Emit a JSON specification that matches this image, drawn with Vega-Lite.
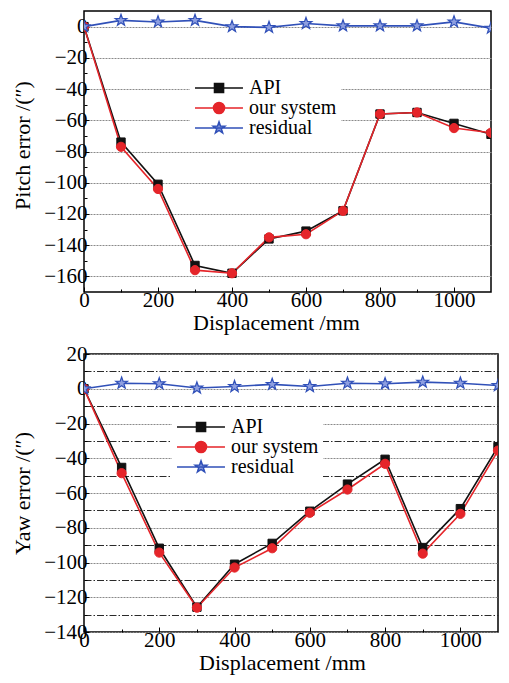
{
  "$schema": "https://vega.github.io/schema/vega-lite/v6.json",
  "background": "white",
  "padding": {"left": 10, "top": 10, "right": 8, "bottom": 4},
  "spacing": 8,
  "datasets": {
    "pitch": [
      {"x": 0, "value": 0, "series": "API"},
      {"x": 100, "value": -74, "series": "API"},
      {"x": 200, "value": -101, "series": "API"},
      {"x": 300, "value": -153, "series": "API"},
      {"x": 400, "value": -158, "series": "API"},
      {"x": 500, "value": -136, "series": "API"},
      {"x": 600, "value": -131, "series": "API"},
      {"x": 700, "value": -118, "series": "API"},
      {"x": 800, "value": -56, "series": "API"},
      {"x": 900, "value": -55, "series": "API"},
      {"x": 1000, "value": -62, "series": "API"},
      {"x": 1100, "value": -69, "series": "API"},
      {"x": 0, "value": 0, "series": "our system"},
      {"x": 100, "value": -77, "series": "our system"},
      {"x": 200, "value": -104, "series": "our system"},
      {"x": 300, "value": -156, "series": "our system"},
      {"x": 400, "value": -158, "series": "our system"},
      {"x": 500, "value": -135, "series": "our system"},
      {"x": 600, "value": -133, "series": "our system"},
      {"x": 700, "value": -118, "series": "our system"},
      {"x": 800, "value": -56, "series": "our system"},
      {"x": 900, "value": -55, "series": "our system"},
      {"x": 1000, "value": -65, "series": "our system"},
      {"x": 1100, "value": -68, "series": "our system"},
      {"x": 0, "value": 0, "series": "residual"},
      {"x": 100, "value": 4, "series": "residual"},
      {"x": 200, "value": 3, "series": "residual"},
      {"x": 300, "value": 4, "series": "residual"},
      {"x": 400, "value": 0, "series": "residual"},
      {"x": 500, "value": -0.5, "series": "residual"},
      {"x": 600, "value": 2, "series": "residual"},
      {"x": 700, "value": 0.5, "series": "residual"},
      {"x": 800, "value": 0.5, "series": "residual"},
      {"x": 900, "value": 0.5, "series": "residual"},
      {"x": 1000, "value": 3, "series": "residual"},
      {"x": 1100, "value": -1, "series": "residual"}
    ],
    "yaw": [
      {"x": 0, "value": 0, "series": "API"},
      {"x": 100, "value": -45.3, "series": "API"},
      {"x": 200, "value": -91.8, "series": "API"},
      {"x": 300, "value": -125.7, "series": "API"},
      {"x": 400, "value": -101, "series": "API"},
      {"x": 500, "value": -89, "series": "API"},
      {"x": 600, "value": -70.5, "series": "API"},
      {"x": 700, "value": -54.9, "series": "API"},
      {"x": 800, "value": -40.6, "series": "API"},
      {"x": 900, "value": -91.4, "series": "API"},
      {"x": 1000, "value": -69, "series": "API"},
      {"x": 1100, "value": -33.3, "series": "API"},
      {"x": 0, "value": 0, "series": "our system"},
      {"x": 100, "value": -48.6, "series": "our system"},
      {"x": 200, "value": -94.3, "series": "our system"},
      {"x": 300, "value": -126, "series": "our system"},
      {"x": 400, "value": -102.9, "series": "our system"},
      {"x": 500, "value": -91.8, "series": "our system"},
      {"x": 600, "value": -71.4, "series": "our system"},
      {"x": 700, "value": -58, "series": "our system"},
      {"x": 800, "value": -43.2, "series": "our system"},
      {"x": 900, "value": -94.9, "series": "our system"},
      {"x": 1000, "value": -72, "series": "our system"},
      {"x": 1100, "value": -35.6, "series": "our system"},
      {"x": 0, "value": 0, "series": "residual"},
      {"x": 100, "value": 3.2, "series": "residual"},
      {"x": 200, "value": 2.9, "series": "residual"},
      {"x": 300, "value": 0.4, "series": "residual"},
      {"x": 400, "value": 1.3, "series": "residual"},
      {"x": 500, "value": 2.5, "series": "residual"},
      {"x": 600, "value": 1.3, "series": "residual"},
      {"x": 700, "value": 3.2, "series": "residual"},
      {"x": 800, "value": 2.9, "series": "residual"},
      {"x": 900, "value": 3.8, "series": "residual"},
      {"x": 1000, "value": 3.2, "series": "residual"},
      {"x": 1100, "value": 1.9, "series": "residual"}
    ]
  },
  "config": {
    "font": "Liberation Serif",
    "view": {"stroke": "black", "strokeWidth": 1.5},
    "axis": {
      "labelFont": "Liberation Serif",
      "titleFont": "Liberation Serif",
      "labelFontSize": 21,
      "titleFontSize": 22,
      "titleFontWeight": "normal",
      "labelColor": "black",
      "titleColor": "black",
      "domain": false,
      "tickColor": "black",
      "tickWidth": 1,
      "labelPadding": 2,
      "labelOverlap": false,
      "labelFlush": false,
      "labelBound": false
    },
    "axisX": {"titlePadding": 0, "grid": false},
    "axisY": {"titlePadding": 9}
  },
  "resolve": {
    "scale": {"color": "independent"},
    "legend": {"color": "independent"}
  },
  "vconcat": [
    {
      "width": 407,
      "height": 281,
      "data": {"name": "pitch"},
      "encoding": {
        "x": {"field": "x", "type": "quantitative", "scale": {"domain": [0, 1100], "nice": false},
          "axis": {"values": [0, 100, 200, 300, 400, 500, 600, 700, 800, 900, 1000], "format": "d", "title": "Displacement /mm", "titleX": 192,
            "labelExpr": "datum.value % 200 === 0 ? datum.label : ''",
            "tickSize": {"condition": {"test": "datum.value % 200 === 0", "value": -5}, "value": -3}}},
        "y": {"field": "value", "type": "quantitative", "scale": {"domain": [-170, 10], "nice": false},
          "axis": {"values": [0, -10, -20, -30, -40, -50, -60, -70, -80, -90, -100, -110, -120, -130, -140, -150, -160], "format": "d", "title": "Pitch error /(″)", "titleY": 134,
            "labelExpr": "datum.value === 0 ? '0' : (datum.value % 20 === 0 ? datum.label : '')",
            "tickSize": {"condition": {"test": "datum.value % 20 === 0", "value": -5}, "value": -3},
            "grid": true, "gridColor": "#8a8a8a", "gridDash": [2, 1], "gridWidth": 1,
            "gridOpacity": {"condition": {"test": "datum.value % 20 === 0", "value": 1}, "value": 0}}}
      },
      "layer": [
        {
          "mark": {"type": "line", "strokeWidth": 1.6, "clip": true},
          "encoding": {
            "color": {
              "field": "series", "type": "nominal",
              "scale": {"domain": ["API", "our system", "residual"], "range": ["#111111", "#e5252a", "#3050b8"]},
              "legend": {
                "orient": "none", "legendX": 106, "legendY": 63, "title": null,
                "fillColor": "white", "padding": 4, "rowPadding": 0,
                "labelFont": "Liberation Serif", "labelFontSize": 20, "labelColor": "black",
                "symbolSize": 324, "symbolStrokeWidth": 1.6, "labelOffset": 35,
                "encode": {"symbols": {"update": {
                  "shape": {"signal": "datum.value === 'API' ? 'M-1,0H4.33M1.17,-0.5H2.17V0.5H1.17Z' : datum.value === 'our system' ? 'M-1,0H4.33M2.28,0A0.61,0.61,0,1,1,1.06,0A0.61,0.61,0,1,1,2.28,0Z' : 'M-1,0H4.33M1.67,-0.67L1.827,-0.217L2.307,-0.207L1.925,0.083L2.064,0.542L1.67,0.268L1.276,0.542L1.415,0.083L1.033,-0.207L1.513,-0.217Z'"},
                  "fill": {"signal": "datum.value === 'API' ? '#111111' : datum.value === 'our system' ? '#e5252a' : '#8e9fe0'"},
                  "stroke": {"signal": "datum.value === 'API' ? '#111111' : datum.value === 'our system' ? '#e5252a' : '#3050b8'"},
                  "strokeWidth": {"value": 1.6},
                  "opacity": {"value": 1}, "fillOpacity": {"value": 1}, "strokeOpacity": {"value": 1}
                }}}
              }
            }
          }
        },
        {
          "transform": [{"filter": "datum.series === 'API'"}],
          "mark": {"type": "point", "clip": true, "shape": "M-1,-1H1V1H-1Z", "size": 70, "filled": true, "fill": "#111111", "stroke": "#111111", "strokeWidth": 1, "opacity": 1}
        },
        {
          "transform": [{"filter": "datum.series === 'our system'"}],
          "mark": {"type": "point", "clip": true, "shape": "circle", "size": 85, "filled": true, "fill": "#e5252a", "stroke": "#e5252a", "strokeWidth": 1, "opacity": 1}
        },
        {
          "transform": [{"filter": "datum.series === 'residual'"}],
          "mark": {"type": "point", "clip": true, "shape": "M0,-1L0.235,-0.324L0.951,-0.309L0.38,0.124L0.588,0.809L0,0.4L-0.588,0.809L-0.38,0.124L-0.951,-0.309L-0.235,-0.324Z", "size": 150, "filled": true, "fill": "#8e9fe0", "stroke": "#3050b8", "strokeWidth": 1.2, "opacity": 1}
        },
        {
          "data": {"values": [{"label": "(a)"}]},
          "mark": {"type": "text", "align": "right", "baseline": "middle", "fontSize": 21, "font": "Liberation Serif", "color": "black"},
          "encoding": {
            "x": {"datum": 1084, "type": "quantitative"},
            "y": {"datum": -5, "type": "quantitative"},
            "text": {"field": "label"}
          }
        }
      ]
    },
    {
      "width": 414,
      "height": 278,
      "data": {"name": "yaw"},
      "encoding": {
        "x": {"field": "x", "type": "quantitative", "scale": {"domain": [0, 1100], "nice": false},
          "axis": {"values": [0, 100, 200, 300, 400, 500, 600, 700, 800, 900, 1000], "format": "d", "title": "Displacement /mm", "titleX": 198,
            "labelExpr": "datum.value % 200 === 0 ? datum.label : ''",
            "tickSize": {"condition": {"test": "datum.value % 200 === 0", "value": -5}, "value": -3}}},
        "y": {"field": "value", "type": "quantitative", "scale": {"domain": [-140, 20], "nice": false},
          "axis": {"values": [20, 10, 0, -10, -20, -30, -40, -50, -60, -70, -80, -90, -100, -110, -120, -130, -140], "format": "d", "title": "Yaw error /(″)",
            "labelExpr": "datum.value === 0 ? '0' : (datum.value % 20 === 0 ? datum.label : '')",
            "tickSize": {"condition": {"test": "datum.value % 20 === 0", "value": -5}, "value": -3},
            "grid": true, "gridWidth": 1,
            "gridColor": {"condition": {"test": "datum.value % 20 === 0", "value": "#8a8a8a"}, "value": "#2a2a2a"},
            "gridDash": {"condition": {"test": "datum.value % 20 === 0", "value": [2, 1]}, "value": [7, 2, 1.5, 2]}}}
      },
      "layer": [
        {
          "mark": {"type": "line", "strokeWidth": 1.6, "clip": true},
          "encoding": {
            "color": {
              "field": "series", "type": "nominal",
              "scale": {"domain": ["API", "our system", "residual"], "range": ["#111111", "#e5252a", "#3050b8"]},
              "legend": {
                "orient": "none", "legendX": 88, "legendY": 59, "title": null,
                "fillColor": "white", "padding": 4, "rowPadding": 0,
                "labelFont": "Liberation Serif", "labelFontSize": 20, "labelColor": "black",
                "symbolSize": 324, "symbolStrokeWidth": 1.6, "labelOffset": 35,
                "encode": {"symbols": {"update": {
                  "shape": {"signal": "datum.value === 'API' ? 'M-1,0H4.33M1.17,-0.5H2.17V0.5H1.17Z' : datum.value === 'our system' ? 'M-1,0H4.33M2.28,0A0.61,0.61,0,1,1,1.06,0A0.61,0.61,0,1,1,2.28,0Z' : 'M-1,0H4.33M1.67,-0.67L1.827,-0.217L2.307,-0.207L1.925,0.083L2.064,0.542L1.67,0.268L1.276,0.542L1.415,0.083L1.033,-0.207L1.513,-0.217Z'"},
                  "fill": {"signal": "datum.value === 'API' ? '#111111' : datum.value === 'our system' ? '#e5252a' : '#8e9fe0'"},
                  "stroke": {"signal": "datum.value === 'API' ? '#111111' : datum.value === 'our system' ? '#e5252a' : '#3050b8'"},
                  "strokeWidth": {"value": 1.6},
                  "opacity": {"value": 1}, "fillOpacity": {"value": 1}, "strokeOpacity": {"value": 1}
                }}}
              }
            }
          }
        },
        {
          "transform": [{"filter": "datum.series === 'API'"}],
          "mark": {"type": "point", "clip": true, "shape": "M-1,-1H1V1H-1Z", "size": 70, "filled": true, "fill": "#111111", "stroke": "#111111", "strokeWidth": 1, "opacity": 1}
        },
        {
          "transform": [{"filter": "datum.series === 'our system'"}],
          "mark": {"type": "point", "clip": true, "shape": "circle", "size": 85, "filled": true, "fill": "#e5252a", "stroke": "#e5252a", "strokeWidth": 1, "opacity": 1}
        },
        {
          "transform": [{"filter": "datum.series === 'residual'"}],
          "mark": {"type": "point", "clip": true, "shape": "M0,-1L0.235,-0.324L0.951,-0.309L0.38,0.124L0.588,0.809L0,0.4L-0.588,0.809L-0.38,0.124L-0.951,-0.309L-0.235,-0.324Z", "size": 150, "filled": true, "fill": "#8e9fe0", "stroke": "#3050b8", "strokeWidth": 1.2, "opacity": 1}
        },
        {
          "data": {"values": [{"label": "(b)"}]},
          "mark": {"type": "text", "align": "right", "baseline": "middle", "fontSize": 21, "font": "Liberation Serif", "color": "black"},
          "encoding": {
            "x": {"datum": 1087, "type": "quantitative"},
            "y": {"datum": 7, "type": "quantitative"},
            "text": {"field": "label"}
          }
        }
      ]
    }
  ]
}
